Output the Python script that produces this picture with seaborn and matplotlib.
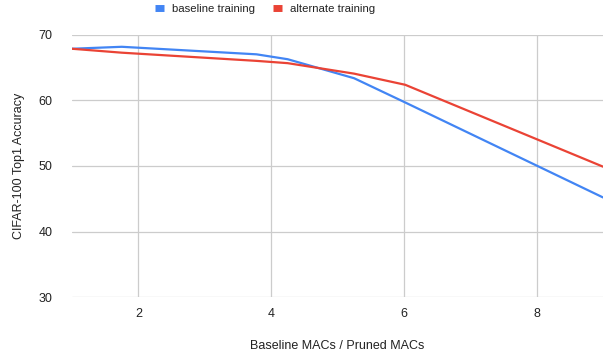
import matplotlib
matplotlib.use("Agg")
import matplotlib.pyplot as plt
import seaborn as sns
import pandas as pd
from matplotlib.lines import Line2D

# Data
macs_ratio = [1.0, 1.75, 3.78, 4.25, 5.25, 6.02, 9.0]
baseline_acc = [67.9, 68.2, 67.05, 66.3, 63.4, 59.7, 45.2]
alternate_acc = [67.9, 67.3, 66.05, 65.7, 64.1, 62.4, 49.9]
series_names = ["baseline training", "alternate training"]
x_ticks = [2, 4, 6, 8]
y_ticks = [30, 40, 50, 60, 70]

df = pd.DataFrame({
    "x": macs_ratio * 2,
    "y": baseline_acc + alternate_acc,
    "series": [series_names[0]] * len(macs_ratio) + [series_names[1]] * len(macs_ratio),
})

sns.set_theme(style="white")
plt.rcParams["font.family"] = ["Liberation Sans", "DejaVu Sans"]

colors = {"baseline training": "#4285F4", "alternate training": "#EA4335"}

fig = plt.figure(figsize=(6.05, 3.55), dpi=100)
ax = fig.add_axes([72 / 605, 1 - 297 / 355, (603 - 72) / 605, (297 - 35) / 355])

sns.lineplot(data=df, x="x", y="y", hue="series", palette=colors, ax=ax,
             linewidth=1.6, legend=False, sort=False)

ax.set_xlim(1, 9)
ax.set_ylim(30, 70)
ax.set_xticks(x_ticks)
ax.set_yticks(y_ticks)
ax.grid(True, color="#cccccc", linewidth=0.9)
ax.set_axisbelow(True)
for s in ax.spines.values():
    s.set_visible(False)
ax.tick_params(axis="both", length=0, labelsize=9, labelcolor="#222222")
ax.tick_params(axis="x", pad=8)
ax.tick_params(axis="y", pad=14)

ax.set_xlabel("Baseline MACs / Pruned MACs", fontsize=9, color="#222222", labelpad=14)
ax.set_ylabel("CIFAR-100 Top1 Accuracy", fontsize=9, color="#222222", labelpad=10)

handles = [Line2D([0], [0], color=colors[n], linewidth=5, solid_capstyle="butt")
           for n in series_names]
fig.legend(handles, series_names, loc="center", bbox_to_anchor=(0.438, 1 - 9 / 355),
           ncol=2, frameon=False, fontsize=8.2, handlelength=0.8, columnspacing=1.6,
           handletextpad=0.7, labelcolor="#222222")

fig.savefig("out.png", dpi=100)
